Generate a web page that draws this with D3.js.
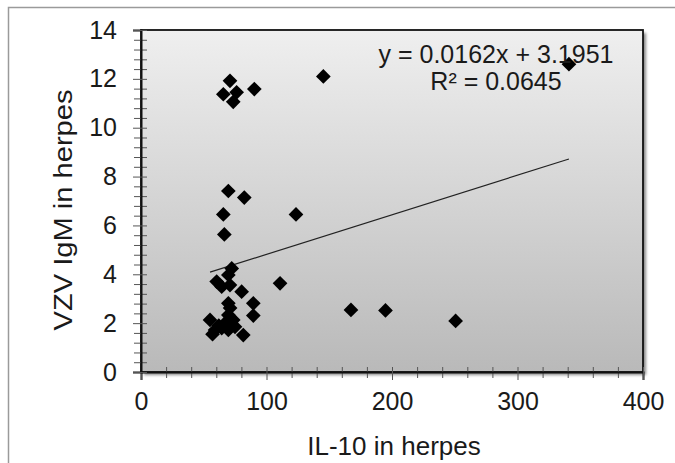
<!DOCTYPE html>
<html>
<head>
<meta charset="utf-8">
<script src="https://cdn.jsdelivr.net/npm/d3@7"></script>
<style>
  body { margin: 0; background: #fff; }
  svg { display: block; font-family: "Liberation Sans", Arial, sans-serif; }
</style>
</head>
<body>
<svg width="675" height="463"></svg>
<script>
// IL-10 (x) vs VZV IgM (y)
const il10 = [70.9, 90.3, 65.6, 76.2, 73.5, 145.3, 341,
  69.6, 82.3, 65.6, 123.5, 66.4,
  72.3, 60.3, 69.6, 64.3, 70.9, 110.8, 80.2, 69.6, 71, 89.5, 89.5,
  55, 69.6, 73.5, 59, 64.3, 69.6, 57, 81.5, 74.9, 167.3, 194.8, 250.7, 67, 62];
const vzvIgm = [11.92, 11.58, 11.37, 11.45, 11.06, 12.1, 12.6,
  7.41, 7.14, 6.45, 6.45, 5.63,
  4.24, 3.70, 3.97, 3.49, 3.56, 3.63, 3.29, 2.81, 2.62, 2.81, 2.31,
  2.13, 2.33, 2.13, 1.72, 1.79, 1.72, 1.55, 1.51, 1.85, 2.54, 2.52, 2.09, 2.0, 1.9];

const slope = 0.0162, intercept = 3.1951;
const equationLines = ["y = 0.0162x + 3.1951", "R² = 0.0645"];

const xMajor = [0, 100, 200, 300, 400];
const yMajor = [0, 2, 4, 6, 8, 10, 12, 14];
const xTitle = "IL-10 in herpes";
const yTitle = "VZV IgM in herpes";

const points = il10.map((v, i) => ({x: v, y: vzvIgm[i]}));

const plot = {left: 141, right: 643, top: 30, bottom: 372};

const x = d3.scaleLinear().domain([0, 400]).range([plot.left, plot.right]);
const y = d3.scaleLinear().domain([0, 14]).range([plot.bottom, plot.top]);

const svg = d3.select("svg");
const defs = svg.append("defs");

const grad = defs.append("linearGradient")
    .attr("id", "bg").attr("x1", 0).attr("y1", 0).attr("x2", 0).attr("y2", 1);
grad.append("stop").attr("offset", "0%").attr("stop-color", "#efefef");
grad.append("stop").attr("offset", "100%").attr("stop-color", "#b9b9b9");

defs.append("filter").attr("id", "shadow")
    .append("feGaussianBlur").attr("stdDeviation", 1.5);

// outer chart border (runs past the right and bottom edge)
svg.append("rect")
    .attr("x", 8.5).attr("y", 7.5)
    .attr("width", 720).attr("height", 520)
    .attr("fill", "none")
    .attr("stroke", "#9a9a9a")
    .attr("stroke-width", 1.5);

// plot area shadow + background
svg.append("rect")
    .attr("x", plot.left + 3).attr("y", plot.top + 3)
    .attr("width", plot.right - plot.left).attr("height", plot.bottom - plot.top)
    .attr("fill", "#8a8a8a")
    .attr("filter", "url(#shadow)");

svg.append("rect")
    .attr("x", plot.left).attr("y", plot.top)
    .attr("width", plot.right - plot.left).attr("height", plot.bottom - plot.top)
    .attr("fill", "url(#bg)")
    .attr("stroke", "#111")
    .attr("stroke-width", 1.8);

// minor ticks
const xMinor = d3.range(0, 401, 20).filter(d => d % 100 !== 0);
const yMinor = d3.range(0, 70).map(d => d * 0.2).filter((d, i) => i % 2 === 0 && i % 10 !== 0);

svg.append("g")
    .attr("transform", `translate(0,${plot.bottom})`)
    .call(d3.axisBottom(x).tickValues(xMinor).tickSize(6).tickFormat(""))
    .call(g => g.select(".domain").remove())
    .call(g => g.selectAll("line").attr("y1", -5).attr("stroke", "#555"));

svg.append("g")
    .attr("transform", `translate(${plot.left},0)`)
    .call(d3.axisLeft(y).tickValues(yMinor).tickSize(7).tickFormat(""))
    .call(g => g.select(".domain").remove())
    .call(g => g.selectAll("line").attr("x1", 6).attr("stroke", "#555"));

// major axes
svg.append("g")
    .attr("transform", `translate(0,${plot.bottom})`)
    .call(d3.axisBottom(x).tickValues(xMajor).tickSize(8).tickPadding(12))
    .call(g => g.select(".domain").attr("stroke", "#111").attr("stroke-width", 2))
    .call(g => g.selectAll("line").attr("y1", -5).attr("stroke", "#555"))
    .call(g => g.selectAll("text")
        .attr("font-size", 25).attr("fill", "#1a1a1a")
        .attr("font-family", "Liberation Sans, Arial, sans-serif"));

svg.append("g")
    .attr("transform", `translate(${plot.left},0)`)
    .call(d3.axisLeft(y).tickValues(yMajor).tickSize(8).tickPadding(16))
    .call(g => g.select(".domain").attr("stroke", "#111").attr("stroke-width", 2))
    .call(g => g.selectAll("line").attr("x1", 6).attr("stroke", "#555"))
    .call(g => g.selectAll("text")
        .attr("font-size", 25).attr("fill", "#1a1a1a")
        .attr("font-family", "Liberation Sans, Arial, sans-serif"));

// trend line
const xExt = d3.extent(il10);
const line = d3.line().x(d => x(d)).y(d => y(slope * d + intercept));
svg.append("path")
    .datum(xExt)
    .attr("d", line)
    .attr("fill", "none")
    .attr("stroke", "#222")
    .attr("stroke-width", 1.2);

// diamonds
const diamond = d3.symbol().type(d3.symbolSquare).size(108);
svg.append("g")
  .selectAll("path")
  .data(points)
  .join("path")
    .attr("d", diamond)
    .attr("transform", d => `translate(${x(d.x)},${y(d.y)}) rotate(45)`)
    .attr("fill", "#000");

// equation
svg.append("text")
    .attr("x", 496).attr("y", 63)
    .attr("text-anchor", "middle")
    .attr("font-size", 25)
    .attr("fill", "#1a1a1a")
  .selectAll("tspan")
  .data(equationLines)
  .join("tspan")
    .attr("x", 496)
    .attr("dy", (d, i) => i === 0 ? 0 : 27)
    .text(d => d);

// axis titles
svg.append("text")
    .attr("x", 394).attr("y", 455)
    .attr("text-anchor", "middle")
    .attr("font-size", 26)
    .attr("fill", "#1a1a1a")
    .text(xTitle);

// the reference's vertical title is drawn a bit longer than plain text
svg.append("text")
    .attr("transform", "translate(72,210) rotate(-90) scale(1.12,1)")
    .attr("text-anchor", "middle")
    .attr("font-size", 26)
    .attr("fill", "#1a1a1a")
    .text(yTitle);
</script>
</body>
</html>
